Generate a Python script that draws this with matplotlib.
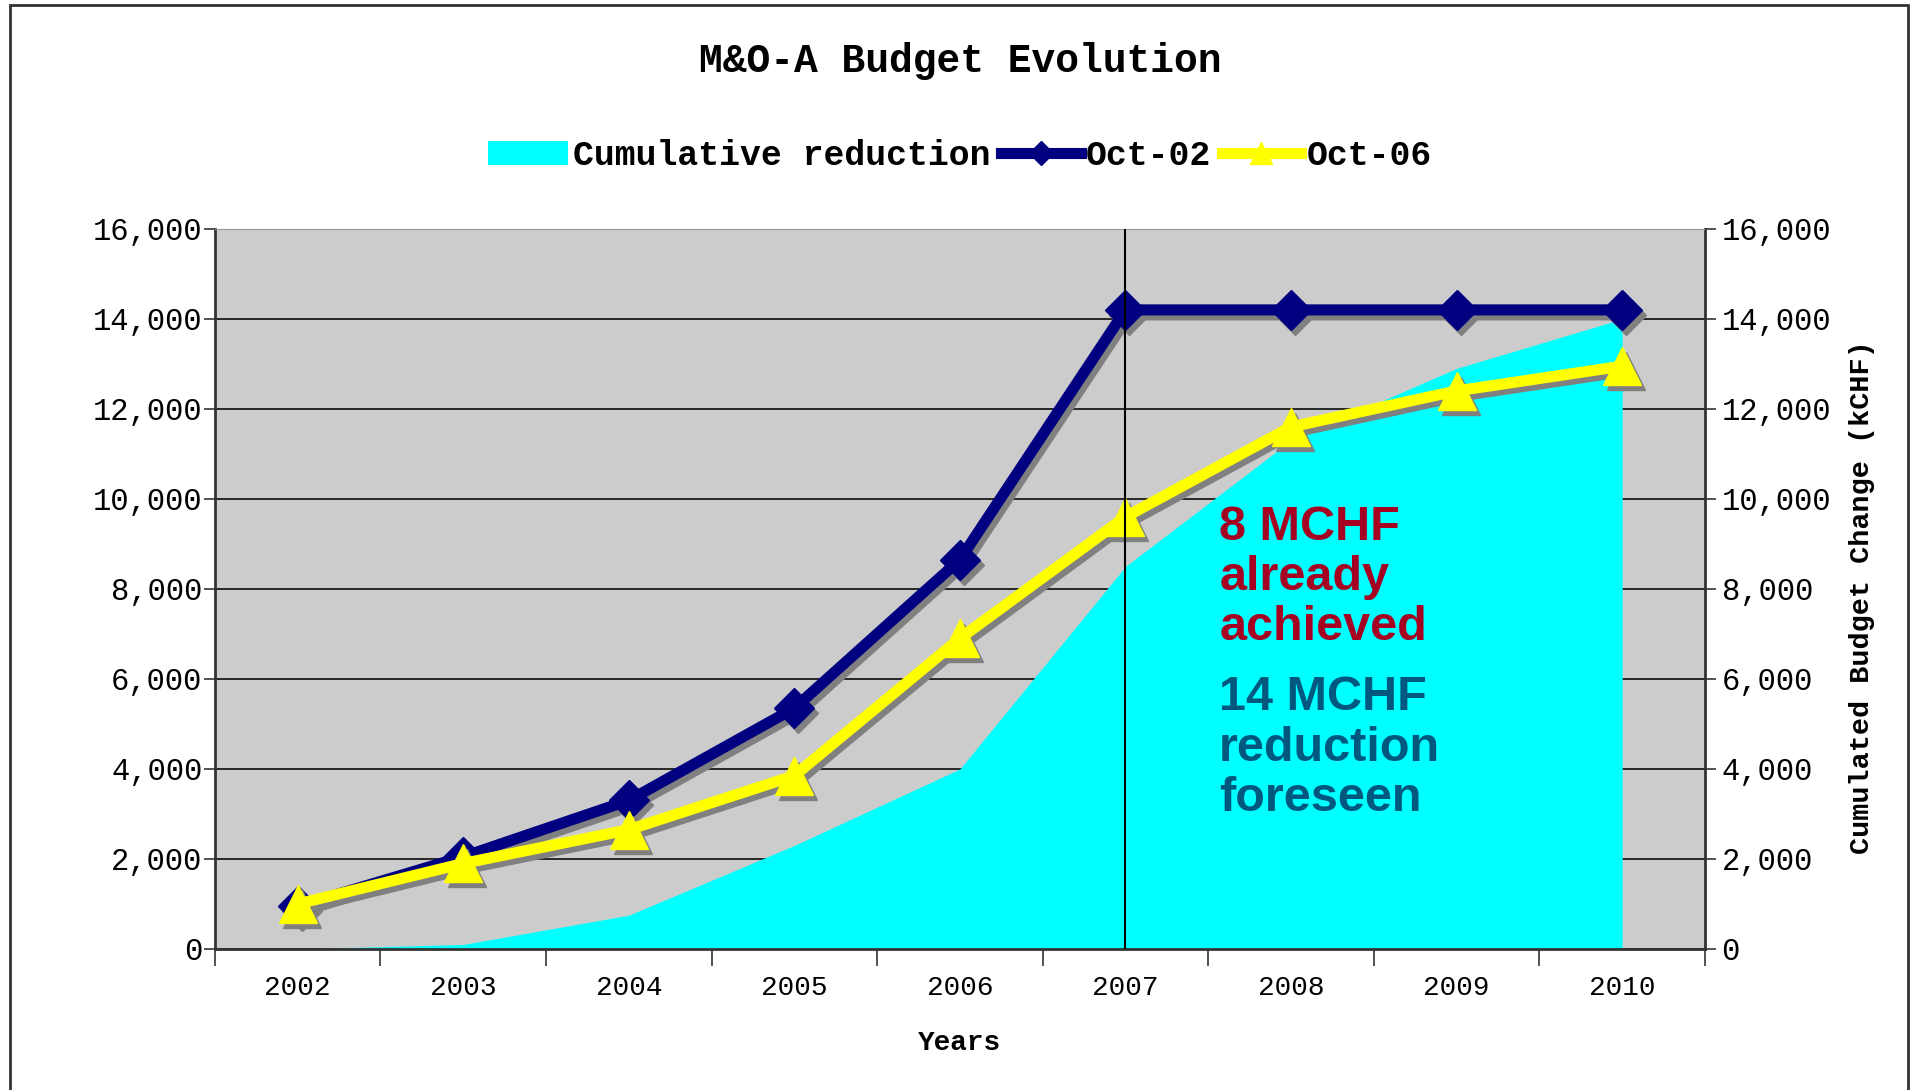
import matplotlib
matplotlib.use("Agg")
import matplotlib.pyplot as plt
import matplotlib.transforms as mtransforms
from matplotlib.ticker import FuncFormatter, FixedLocator

# Data (kCHF)
years = ["2002", "2003", "2004", "2005", "2006", "2007", "2008", "2009", "2010"]
cumulative_reduction = [0, 100, 750, 2300, 4000, 8500, 11300, 12900, 14000]
oct_02 = [950, 2050, 3300, 5350, 8650, 14200, 14200, 14200, 14200]
oct_06 = [1000, 1900, 2650, 3850, 6900, 9600, 11600, 12400, 12950]
y_ticks = [0, 2000, 4000, 6000, 8000, 10000, 12000, 14000, 16000]

mono = "Liberation Mono"
x = list(range(len(years)))

fig = plt.figure(figsize=(19.12, 10.90), dpi=100)
ax = fig.add_axes([0.1124, 0.1294, 0.7793, 0.6606])
ax.set_facecolor("#cccccc")
ax.set_axisbelow(True)
ax.yaxis.grid(True, color="#1a1a1a", lw=1.3)

# drop shadow: same series, shifted a few pixels down-right
shadow_tr = mtransforms.offset_copy(ax.transData, fig=fig, x=4, y=-5, units="dots")

area = ax.fill_between(x, 0, cumulative_reduction, color="#00ffff", lw=0, zorder=2,
                       label="Cumulative reduction")
ax.plot(x, oct_02, color="#808080", lw=8, marker="D", markersize=20,
        solid_joinstyle="miter", zorder=3, transform=shadow_tr)
l1, = ax.plot(x, oct_02, color="#000080", lw=8, marker="D", markersize=20,
              solid_joinstyle="miter", zorder=4, label="Oct-02")
ax.plot(x, oct_06, color="#808080", lw=8, marker="^", markersize=27,
        solid_joinstyle="miter", zorder=4.5, transform=shadow_tr)
l2, = ax.plot(x, oct_06, color="#ffff00", lw=8, marker="^", markersize=27,
              solid_joinstyle="miter", zorder=5, label="Oct-06")

# vertical marker at 2007
ax.axvline(5, color="black", lw=1.5, zorder=10)

ax.set_xlim(-0.5, len(years) - 0.5)
ax.set_ylim(0, 16000)
ax.set_yticks(y_ticks)
fmt = FuncFormatter(lambda v, p: f"{int(v):,}")
ax.yaxis.set_major_formatter(fmt)

ax.xaxis.set_major_locator(FixedLocator([i - 0.5 for i in range(len(years) + 1)]))
ax.xaxis.set_minor_locator(FixedLocator(x))
ax.set_xticklabels([], minor=False)
ax.set_xticklabels(years, minor=True, fontfamily=mono, fontsize=20)
ax.tick_params(axis="x", which="major", length=12, width=1.2, color="#333333")
ax.tick_params(axis="x", which="minor", length=0, pad=19)
ax.tick_params(axis="y", length=8, width=1.2, color="#333333", labelsize=22, pad=1)
for lab in ax.get_yticklabels():
    lab.set_fontfamily(mono)

for s in ["left", "bottom"]:
    ax.spines[s].set_color("#333333")
    ax.spines[s].set_linewidth(2)
ax.spines["top"].set_color("#999999")
ax.spines["right"].set_color("#333333")
ax.spines["right"].set_linewidth(2)

ax2 = ax.twinx()
ax2.set_ylim(0, 16000)
ax2.set_yticks(y_ticks)
ax2.yaxis.set_major_formatter(fmt)
ax2.tick_params(axis="y", length=8, width=1.2, color="#333333", labelsize=22, pad=4)
for lab in ax2.get_yticklabels():
    lab.set_fontfamily(mono)
for s in ax2.spines.values():
    s.set_visible(False)

fig.text(0.502, 0.944, "M&O-A Budget Evolution", ha="center", va="center",
         fontfamily=mono, fontweight="bold", fontsize=28.5)
fig.text(0.502, 0.043, "Years", ha="center", va="center",
         fontfamily=mono, fontweight="bold", fontsize=20)
fig.text(0.974, 0.452, "Cumulated Budget Change (kCHF)", ha="center", va="center",
         rotation=90, fontfamily=mono, fontweight="bold", fontsize=20.5)

ax.text(0.674, 0.617, "8 MCHF\nalready\nachieved", transform=ax.transAxes,
        ha="left", va="top", color="#a50021", fontfamily="Liberation Sans",
        fontweight="bold", fontsize=35, linespacing=1.15, zorder=11)
ax.text(0.674, 0.380, "14 MCHF\nreduction\nforeseen", transform=ax.transAxes,
        ha="left", va="top", color="#00587f", fontfamily="Liberation Sans",
        fontweight="bold", fontsize=35, linespacing=1.15, zorder=11)

leg = ax.legend(handles=[area, l1, l2], loc="center", ncol=3,
                bbox_to_anchor=(0.502, 0.857), bbox_transform=fig.transFigure,
                frameon=False, prop={"family": mono, "weight": "bold", "size": 25},
                handlelength=2.3, handletextpad=0.15, columnspacing=0.3,
                markerscale=0.6)

# outer chart border
fig.add_artist(plt.Rectangle((10 / 1912, -0.01), 1898 / 1912, 1.0 - 5 / 1090 + 0.01,
                             transform=fig.transFigure, fill=False,
                             edgecolor="#333333", lw=2))

fig.savefig("out.png", dpi=100)
